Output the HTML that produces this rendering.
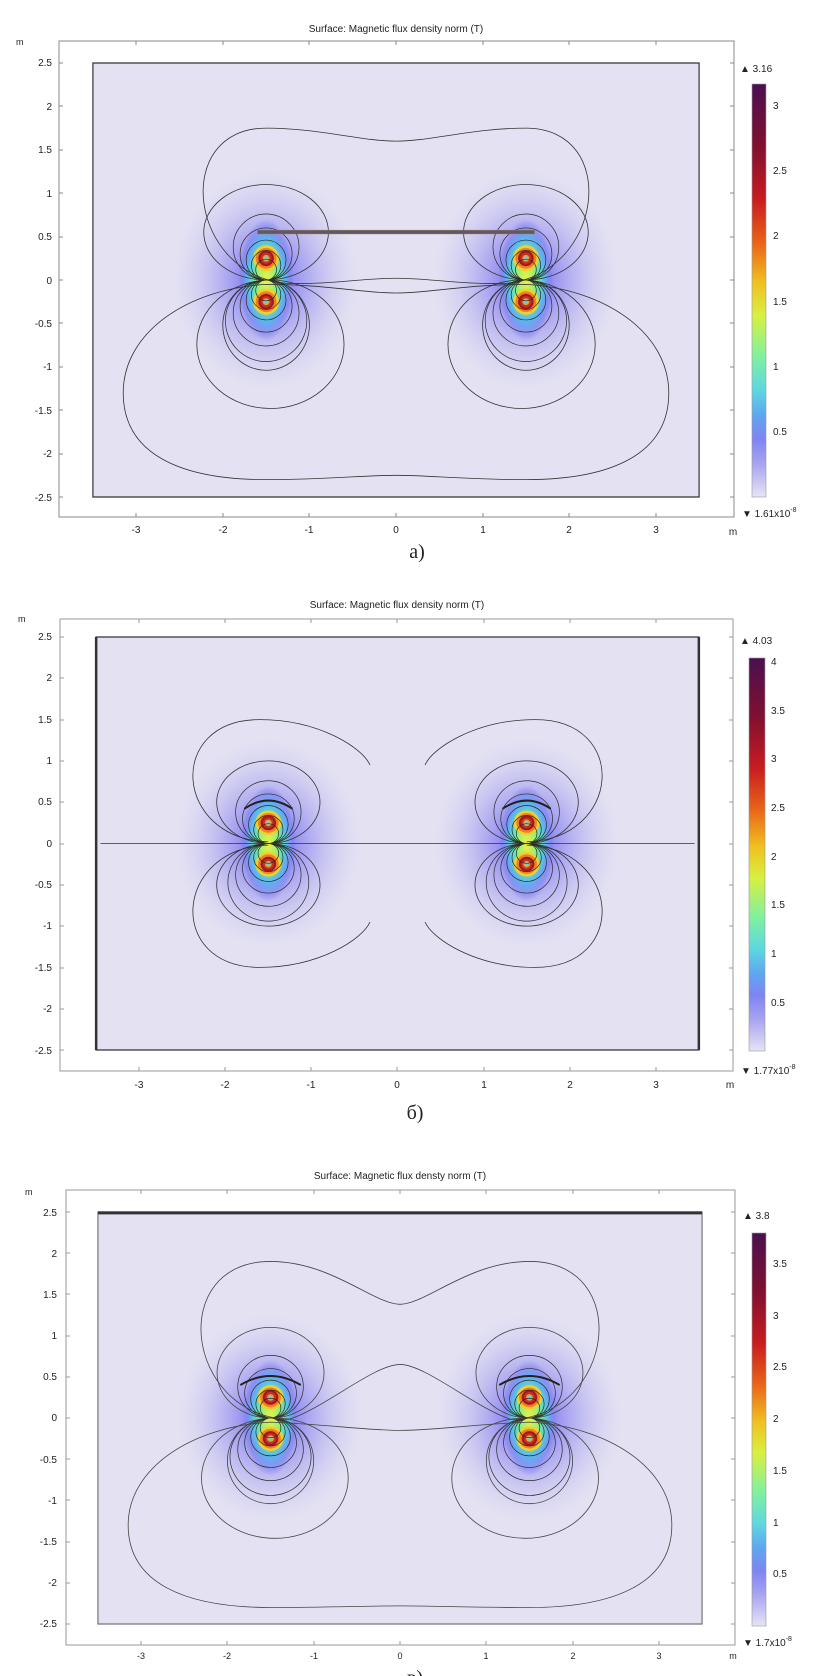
<!DOCTYPE html>
<html><head><meta charset="utf-8"><style>
html,body{margin:0;padding:0;background:#fff}
svg{display:block}
text{font-family:"Liberation Sans",sans-serif;fill:#222}
</style></head><body>
<svg width="824" height="1676" viewBox="0 0 824 1676" xmlns="http://www.w3.org/2000/svg">
<defs>
<linearGradient id="cb" x1="0" y1="1" x2="0" y2="0">
<stop offset="0" stop-color="#e6e4f4"/><stop offset="0.08" stop-color="#a8a4f0"/>
<stop offset="0.14" stop-color="#7f84f2"/><stop offset="0.2" stop-color="#5ea8f0"/>
<stop offset="0.26" stop-color="#5ed8e0"/><stop offset="0.34" stop-color="#80f0a0"/>
<stop offset="0.44" stop-color="#d8f040"/><stop offset="0.52" stop-color="#f0c020"/>
<stop offset="0.62" stop-color="#e86018"/><stop offset="0.72" stop-color="#c81c20"/>
<stop offset="0.85" stop-color="#801030"/><stop offset="1" stop-color="#4a1050"/>
</linearGradient>
<radialGradient id="glow"><stop offset="0" stop-color="#4a40f0" stop-opacity="0.9"/><stop offset="0.4" stop-color="#7a74f0" stop-opacity="0.55"/><stop offset="1" stop-color="#c8c4f0" stop-opacity="0"/></radialGradient>
<radialGradient id="core"><stop offset="0" stop-color="#f0f040"/><stop offset="0.3" stop-color="#a0f070"/><stop offset="0.5" stop-color="#60e0c0"/><stop offset="0.7" stop-color="#60b0f0"/><stop offset="0.88" stop-color="#7f84f2" stop-opacity="0.6"/><stop offset="1" stop-color="#8080f0" stop-opacity="0"/></radialGradient>
<g id="spot">
<circle r="0.15" fill="#f0d030"/><circle r="0.12" fill="#f08020"/><circle r="0.09" fill="#a01820"/><circle r="0.065" fill="#c83020"/><circle r="0.04" fill="#e0a040"/><circle r="0.022" fill="#70d0d0"/>
</g>
<g id="coil">
<ellipse cx="0" cy="0" rx="1.1" ry="1.3" fill="url(#glow)"/>
<ellipse cx="0" cy="0" rx="0.32" ry="0.7" fill="url(#core)"/>
<use href="#spot" y="0.25"/><use href="#spot" y="-0.25"/>
<g fill="none" stroke="#2a2a2a" stroke-width="0.7">
<circle cx="0" cy="0.12" r="0.12" vector-effect="non-scaling-stroke"/>
<circle cx="0" cy="0.17" r="0.17" vector-effect="non-scaling-stroke"/>
<circle cx="0" cy="0.23" r="0.23" vector-effect="non-scaling-stroke"/>
<circle cx="0" cy="0.3" r="0.3" vector-effect="non-scaling-stroke"/>
<circle cx="0" cy="0.38" r="0.38" vector-effect="non-scaling-stroke"/>
<circle cx="0" cy="-0.12" r="0.12" vector-effect="non-scaling-stroke"/>
<circle cx="0" cy="-0.17" r="0.17" vector-effect="non-scaling-stroke"/>
<circle cx="0" cy="-0.23" r="0.23" vector-effect="non-scaling-stroke"/>
<circle cx="0" cy="-0.3" r="0.3" vector-effect="non-scaling-stroke"/>
<circle cx="0" cy="-0.38" r="0.38" vector-effect="non-scaling-stroke"/>
<circle cx="0" cy="-0.47" r="0.47" vector-effect="non-scaling-stroke"/>
</g>
</g>
</defs>

<!-- ============ PANEL A ============ -->
<text x="396" y="32" font-size="10" text-anchor="middle">Surface: Magnetic flux density norm (T)</text>
<text x="16" y="45" font-size="9">m</text>
<rect x="59" y="41" width="675" height="476" fill="none" stroke="#888" stroke-width="1"/>
<g transform="translate(396,280) scale(86.6,-86.8)">
<rect x="-3.5" y="-2.5" width="7" height="5" fill="#e4e2f2" stroke="#333" stroke-width="1.2" vector-effect="non-scaling-stroke"/>
<use href="#coil" x="-1.5"/><use href="#coil" x="1.5"/>
<g fill="none" stroke="#333" stroke-width="0.8">
<ellipse cx="-1.5" cy="0.55" rx="0.72" ry="0.55" vector-effect="non-scaling-stroke"/>
<ellipse cx="1.5" cy="0.55" rx="0.72" ry="0.55" vector-effect="non-scaling-stroke"/>
<ellipse cx="-1.5" cy="-0.52" rx="0.5" ry="0.52" vector-effect="non-scaling-stroke"/>
<ellipse cx="1.5" cy="-0.52" rx="0.5" ry="0.52" vector-effect="non-scaling-stroke"/>
<ellipse cx="-1.45" cy="-0.74" rx="0.85" ry="0.74" vector-effect="non-scaling-stroke"/>
<ellipse cx="1.45" cy="-0.74" rx="0.85" ry="0.74" vector-effect="non-scaling-stroke"/>
<path vector-effect="non-scaling-stroke" d="M -1.25 -0.04 C -2.4 0.05 -2.6 1.75 -1.5 1.75 C -0.9 1.75 -0.4 1.6 0 1.6 C 0.4 1.6 0.9 1.75 1.5 1.75 C 2.6 1.75 2.4 0.05 1.25 -0.04 C 0.7 -0.05 0.4 0.02 0 0.02 C -0.4 0.02 -0.7 -0.05 -1.25 -0.04 Z"/>
<path vector-effect="non-scaling-stroke" d="M -1.5 -0.05 C -2.4 -0.1 -3.15 -0.6 -3.15 -1.3 C -3.15 -2.0 -2.5 -2.3 -1.5 -2.3 C -0.8 -2.3 -0.4 -2.25 0 -2.25 C 0.4 -2.25 0.8 -2.3 1.5 -2.3 C 2.5 -2.3 3.15 -2.0 3.15 -1.3 C 3.15 -0.6 2.4 -0.1 1.5 -0.05 C 0.8 -0.05 0.4 -0.15 0 -0.15 C -0.4 -0.15 -0.8 -0.05 -1.5 -0.05 Z"/>
</g>
<rect x="-1.6" y="0.53" width="3.2" height="0.045" fill="#5a5a6a" stroke="#c08040" stroke-width="0.4" vector-effect="non-scaling-stroke"/>
</g>
<g font-size="10" text-anchor="end">
<text x="52" y="66">2.5</text><text x="52" y="110">2</text><text x="52" y="153">1.5</text><text x="52" y="197">1</text><text x="52" y="240">0.5</text><text x="52" y="284">0</text><text x="52" y="327">-0.5</text><text x="52" y="370">-1</text><text x="52" y="414">-1.5</text><text x="52" y="457">-2</text><text x="52" y="501">-2.5</text>
</g>
<g font-size="10" text-anchor="middle">
<text x="136" y="533">-3</text><text x="223" y="533">-2</text><text x="309" y="533">-1</text><text x="396" y="533">0</text><text x="483" y="533">1</text><text x="569" y="533">2</text><text x="656" y="533">3</text><text x="733" y="535">m</text>
</g>
<g stroke="#888" stroke-width="1">
<path d="M59 63h4M59 106h4M59 150h4M59 193h4M59 237h4M59 280h4M59 323h4M59 367h4M59 410h4M59 454h4M59 497h4"/>
<path d="M734 63h-4M734 106h-4M734 150h-4M734 193h-4M734 237h-4M734 280h-4M734 323h-4M734 367h-4M734 410h-4M734 454h-4M734 497h-4"/>
<path d="M136 41v4M223 41v4M309 41v4M396 41v4M483 41v4M569 41v4M656 41v4M136 517v-4M223 517v-4M309 517v-4M396 517v-4M483 517v-4M569 517v-4M656 517v-4"/>
</g>
<rect x="752" y="84" width="14" height="413" fill="url(#cb)" stroke="#999" stroke-width="0.6"/>
<text x="740" y="72" font-size="10">▲ 3.16</text>
<text x="742" y="517" font-size="10">▼ 1.61x10<tspan dy="-5" font-size="7">-8</tspan></text>
<g font-size="10"><text x="773" y="435">0.5</text><text x="773" y="370">1</text><text x="773" y="305">1.5</text><text x="773" y="239">2</text><text x="773" y="174">2.5</text><text x="773" y="109">3</text></g>
<text x="417" y="558" font-size="20" text-anchor="middle" style="font-family:'Liberation Serif',serif">a)</text>

<!-- ============ PANEL B ============ -->
<text x="397" y="608" font-size="10" text-anchor="middle">Surface: Magnetic flux density norm (T)</text>
<text x="18" y="622" font-size="9">m</text>
<rect x="60" y="619" width="673" height="452" fill="none" stroke="#999" stroke-width="1"/>
<g transform="translate(397.5,843.5) scale(86.1,-82.6)">
<rect x="-3.5" y="-2.5" width="7" height="5" fill="#e4e2f2" stroke="#333" stroke-width="1.2" vector-effect="non-scaling-stroke"/>
<path d="M-3.5 -2.5V2.5M3.5 -2.5V2.5" stroke="#333" stroke-width="2.5" vector-effect="non-scaling-stroke"/>
<use href="#coil" x="-1.5"/><use href="#coil" x="1.5"/>
<g fill="none" stroke="#333" stroke-width="0.8">
<path vector-effect="non-scaling-stroke" d="M-3.45 0H3.45"/>
<ellipse cx="-1.5" cy="0.5" rx="0.6" ry="0.5" vector-effect="non-scaling-stroke"/>
<ellipse cx="1.5" cy="0.5" rx="0.6" ry="0.5" vector-effect="non-scaling-stroke"/>
<ellipse cx="-1.5" cy="-0.5" rx="0.6" ry="0.5" vector-effect="non-scaling-stroke"/>
<ellipse cx="1.5" cy="-0.5" rx="0.6" ry="0.5" vector-effect="non-scaling-stroke"/>
<path vector-effect="non-scaling-stroke" d="M-1.5 0.02 C-2.6 0.05 -2.7 1.5 -1.6 1.5 C-0.9 1.5 -0.4 1.15 -0.32 0.95"/>
<path vector-effect="non-scaling-stroke" d="M1.5 0.02 C2.6 0.05 2.7 1.5 1.6 1.5 C0.9 1.5 0.4 1.15 0.32 0.95"/>
<path vector-effect="non-scaling-stroke" d="M-1.5 -0.02 C-2.6 -0.05 -2.7 -1.5 -1.6 -1.5 C-0.9 -1.5 -0.4 -1.15 -0.32 -0.95"/>
<path vector-effect="non-scaling-stroke" d="M1.5 -0.02 C2.6 -0.05 2.7 -1.5 1.6 -1.5 C0.9 -1.5 0.4 -1.15 0.32 -0.95"/>
</g>
<g fill="none" stroke="#222" stroke-width="2">
<path vector-effect="non-scaling-stroke" d="M-1.78 0.42 Q-1.5 0.62 -1.22 0.42"/>
<path vector-effect="non-scaling-stroke" d="M1.22 0.42 Q1.5 0.62 1.78 0.42"/>
</g>
</g>
<g font-size="10" text-anchor="end">
<text x="52" y="640">2.5</text><text x="52" y="681">2</text><text x="52" y="723">1.5</text><text x="52" y="764">1</text><text x="52" y="805">0.5</text><text x="52" y="847">0</text><text x="52" y="888">-0.5</text><text x="52" y="929">-1</text><text x="52" y="971">-1.5</text><text x="52" y="1012">-2</text><text x="52" y="1054">-2.5</text>
</g>
<g font-size="10" text-anchor="middle">
<text x="139" y="1088">-3</text><text x="225" y="1088">-2</text><text x="311" y="1088">-1</text><text x="397" y="1088">0</text><text x="484" y="1088">1</text><text x="570" y="1088">2</text><text x="656" y="1088">3</text><text x="730" y="1088">m</text>
</g>
<g stroke="#999" stroke-width="1">
<path d="M60 637h4M60 678h4M60 720h4M60 761h4M60 802h4M60 844h4M60 885h4M60 926h4M60 968h4M60 1009h4M60 1050h4"/>
<path d="M733 637h-4M733 678h-4M733 720h-4M733 761h-4M733 802h-4M733 844h-4M733 885h-4M733 926h-4M733 968h-4M733 1009h-4M733 1050h-4"/>
<path d="M139 619v4M225 619v4M311 619v4M397 619v4M484 619v4M570 619v4M656 619v4M139 1071v-4M225 1071v-4M311 1071v-4M397 1071v-4M484 1071v-4M570 1071v-4M656 1071v-4"/>
</g>
<rect x="749" y="658" width="16" height="393" fill="url(#cb)" stroke="#999" stroke-width="0.6"/>
<text x="740" y="644" font-size="10">▲ 4.03</text>
<text x="741" y="1074" font-size="10">▼ 1.77x10<tspan dy="-5" font-size="7">-8</tspan></text>
<g font-size="10"><text x="771" y="1006">0.5</text><text x="771" y="957">1</text><text x="771" y="908">1.5</text><text x="771" y="860">2</text><text x="771" y="811">2.5</text><text x="771" y="762">3</text><text x="771" y="714">3.5</text><text x="771" y="665">4</text></g>
<text x="415" y="1119" font-size="20" text-anchor="middle" style="font-family:'Liberation Serif',serif">б)</text>

<!-- ============ PANEL C ============ -->
<text x="400" y="1179" font-size="10" text-anchor="middle">Surface: Magnetic flux densty norm (T)</text>
<text x="25" y="1195" font-size="9">m</text>
<rect x="66" y="1190" width="669" height="455" fill="none" stroke="#999" stroke-width="1"/>
<g transform="translate(400,1418) scale(86.3,-82.4)">
<rect x="-3.5" y="-2.5" width="7" height="5" fill="#e4e2f2" stroke="#777" stroke-width="1.2" vector-effect="non-scaling-stroke"/>
<path d="M-3.5 2.49H3.5" stroke="#333" stroke-width="3" vector-effect="non-scaling-stroke"/>
<use href="#coil" x="-1.5"/><use href="#coil" x="1.5"/>
<g fill="none" stroke="#444" stroke-width="0.8">
<ellipse cx="-1.5" cy="0.55" rx="0.62" ry="0.55" vector-effect="non-scaling-stroke"/>
<ellipse cx="1.5" cy="0.55" rx="0.62" ry="0.55" vector-effect="non-scaling-stroke"/>
<ellipse cx="-1.5" cy="-0.52" rx="0.5" ry="0.52" vector-effect="non-scaling-stroke"/>
<ellipse cx="1.5" cy="-0.52" rx="0.5" ry="0.52" vector-effect="non-scaling-stroke"/>
<ellipse cx="-1.45" cy="-0.73" rx="0.85" ry="0.73" vector-effect="non-scaling-stroke"/>
<ellipse cx="1.45" cy="-0.73" rx="0.85" ry="0.73" vector-effect="non-scaling-stroke"/>
<path vector-effect="non-scaling-stroke" d="M -1.3 -0.02 C -2.5 0.05 -2.7 1.9 -1.5 1.9 C -0.8 1.9 -0.3 1.38 0 1.38 C 0.3 1.38 0.8 1.9 1.5 1.9 C 2.7 1.9 2.5 0.05 1.3 -0.02 C 0.9 0.1 0.3 0.65 0 0.65 C -0.3 0.65 -0.9 0.1 -1.3 -0.02 Z"/>
<path vector-effect="non-scaling-stroke" d="M -1.5 -0.05 C -2.4 -0.1 -3.15 -0.6 -3.15 -1.3 C -3.15 -2.0 -2.5 -2.3 -1.5 -2.3 C -0.8 -2.3 -0.4 -2.28 0 -2.28 C 0.4 -2.28 0.8 -2.3 1.5 -2.3 C 2.5 -2.3 3.15 -2.0 3.15 -1.3 C 3.15 -0.6 2.4 -0.1 1.5 -0.05 C 0.8 -0.08 0.4 -0.15 0 -0.15 C -0.4 -0.15 -0.8 -0.08 -1.5 -0.05 Z"/>
</g>
<g fill="none" stroke="#222" stroke-width="2">
<path vector-effect="non-scaling-stroke" d="M-1.85 0.4 Q-1.5 0.62 -1.15 0.4"/>
<path vector-effect="non-scaling-stroke" d="M1.15 0.4 Q1.5 0.62 1.85 0.4"/>
</g>
</g>
<g font-size="10" text-anchor="end">
<text x="57" y="1216">2.5</text><text x="57" y="1257">2</text><text x="57" y="1298">1.5</text><text x="57" y="1339">1</text><text x="57" y="1380">0.5</text><text x="57" y="1421">0</text><text x="57" y="1463">-0.5</text><text x="57" y="1504">-1</text><text x="57" y="1545">-1.5</text><text x="57" y="1586">-2</text><text x="57" y="1627">-2.5</text>
</g>
<g font-size="9" text-anchor="middle">
<text x="141" y="1659">-3</text><text x="227" y="1659">-2</text><text x="314" y="1659">-1</text><text x="400" y="1659">0</text><text x="486" y="1659">1</text><text x="573" y="1659">2</text><text x="659" y="1659">3</text><text x="733" y="1659">m</text>
</g>
<g stroke="#999" stroke-width="1">
<path d="M66 1212h4M66 1253h4M66 1294h4M66 1336h4M66 1377h4M66 1418h4M66 1459h4M66 1500h4M66 1542h4M66 1583h4M66 1624h4"/>
<path d="M735 1212h-4M735 1253h-4M735 1294h-4M735 1336h-4M735 1377h-4M735 1418h-4M735 1459h-4M735 1500h-4M735 1542h-4M735 1583h-4M735 1624h-4"/>
<path d="M141 1190v4M227 1190v4M314 1190v4M400 1190v4M486 1190v4M573 1190v4M659 1190v4M141 1645v-4M227 1645v-4M314 1645v-4M400 1645v-4M486 1645v-4M573 1645v-4M659 1645v-4"/>
</g>
<rect x="752" y="1233" width="14" height="393" fill="url(#cb)" stroke="#999" stroke-width="0.6"/>
<text x="743" y="1219" font-size="10">▲ 3.8</text>
<text x="743" y="1646" font-size="10">▼ 1.7x10<tspan dy="-5" font-size="7">-8</tspan></text>
<g font-size="10"><text x="773" y="1577">0.5</text><text x="773" y="1526">1</text><text x="773" y="1474">1.5</text><text x="773" y="1422">2</text><text x="773" y="1370">2.5</text><text x="773" y="1319">3</text><text x="773" y="1267">3.5</text></g>
<text x="415" y="1684" font-size="20" text-anchor="middle" style="font-family:'Liberation Serif',serif">в)</text>
</svg>
</body></html>
